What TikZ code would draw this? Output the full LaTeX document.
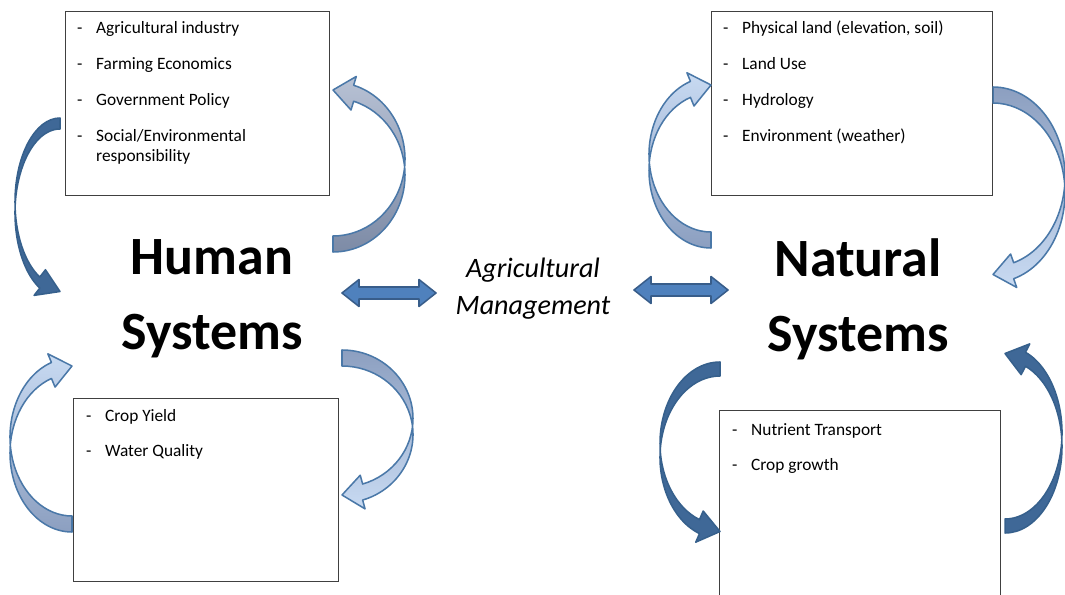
\documentclass[tikz,border=0pt]{standalone}
\usepackage{fontspec}
\setmainfont{Carlito}
\usetikzlibrary{calc}

\definecolor{linkblue}{HTML}{4F81BD}
\definecolor{linkedge}{HTML}{385D8A}
\definecolor{deepblue}{HTML}{3F6897}
\definecolor{deepedge}{HTML}{36608C}
\definecolor{paleblue}{HTML}{C8DAF2}
\definecolor{greyblue}{HTML}{8C9FC0}
\definecolor{slatetop}{HTML}{B7C1D4}
\definecolor{slatebot}{HTML}{7D8BA6}
\definecolor{lightedge}{HTML}{4A78A8}

\tikzset{
  listbox/.style={draw=black!75, line width=0.9pt, inner sep=0pt, anchor=north west},
  listtext/.style={font=\fontsize{14.8}{17}\selectfont, inner sep=0pt, anchor=base west},
  bigtext/.style={font=\fontsize{46}{52}\selectfont\bfseries, inner sep=0pt, anchor=base},
  midtext/.style={font=\fontsize{24}{29}\selectfont\itshape, inner sep=0pt, anchor=base},
  dblarrow/.style={fill=linkblue, draw=linkedge, line width=1.3pt, line join=round},
  deeparrow/.style={fill=deepblue, draw=deepedge, line width=1.3pt, line join=round},
  palearrow/.style={draw=lightedge, line width=1.3pt, line join=round},
}

% list of items with a dash in front
\newcommand\dashlist[1]{\begin{tabular}[t]{@{}p{16.2pt}@{}l@{}}#1\end{tabular}}

% curved block arrow: tail on top, bulging left, head at the bottom pointing right
% #1 style, #2 placement, #3 x radius, #4 y radius, #5 band, #6 half head
\newcommand\bendarrow[6]{%
  \pgfmathsetmacro\bendend{90+1200/#3}%
  \pgfmathsetmacro\bax{#3*cos(\bendend)}%
  \pgfmathsetmacro\bay{#4*sin(\bendend)}%
  \pgfmathsetmacro\bby{\bay+#5}%
  \pgfmathsetmacro\bmy{\bay+#5/2}%
  \pgfmathsetmacro\bty{#4+#5/2}%
  \pgfmathsetmacro\bul{veclen(\bax,\bty-\bmy)}%
  \pgfmathsetmacro\bix{\bax+(\bty-\bmy)/\bul*#6}%
  \pgfmathsetmacro\biy{\bmy+(\bax)/\bul*#6}%
  \pgfmathsetmacro\bcx{\bax-(\bty-\bmy)/\bul*#6}%
  \pgfmathsetmacro\bcy{\bmy-(\bax)/\bul*#6}%
  \begin{scope}[#2]
    \path[#1] (0,-#4) arc[start angle=270, end angle=\bendend, x radius=#3, y radius=#4]
      -- (\bix,\biy) -- (0,\bty) -- (\bcx,\bcy) -- (\bax,\bby)
      arc[start angle=\bendend, end angle=270, x radius=#3, y radius=#4] -- cycle;
  \end{scope}}

\begin{document}
\begin{tikzpicture}[x=0.03cm, y=-0.03cm]
  \path[use as bounding box, fill=white] (0,0) rectangle (1065,595);

  % Boxes:
  \node[listbox, minimum width=7.92cm, minimum height=5.52cm] (humandrivers) at (65,11) {};
  \node[listbox, minimum width=8.43cm, minimum height=5.52cm] (naturaldrivers) at (711,11) {};
  \node[listbox, minimum width=7.95cm, minimum height=5.49cm] (humanoutputs) at (73,398) {};
  \node[listbox, minimum width=8.43cm, minimum height=6cm] (naturaloutputs) at (719,410) {};

  % Box texts:
  \node[listtext] (humandriverlist) at ([shift={(12,23)}]humandrivers.north west) {\dashlist{%
    - & Agricultural industry\\[13.6pt]
    - & Farming Economics\\[13.6pt]
    - & Government Policy\\[13.6pt]
    - & Social/Environmental\\
      & responsibility}};
  \node[listtext] (naturaldriverlist) at ([shift={(12,23)}]naturaldrivers.north west) {\dashlist{%
    - & Physical land (elevation, soil)\\[13.6pt]
    - & Land Use\\[13.6pt]
    - & Hydrology\\[13.6pt]
    - & Environment (weather)}};
  \node[listtext] (humanoutputlist) at ([shift={(13,23)}]humanoutputs.north west) {\dashlist{%
    - & Crop Yield\\[13.6pt]
    - & Water Quality}};
  \node[listtext] (naturaloutputlist) at ([shift={(13,25)}]naturaloutputs.north west) {\dashlist{%
    - & Nutrient Transport\\[13.6pt]
    - & Crop growth}};

  % Main labels:
  \node[bigtext] (human) at (212,274) {Human};
  \node[bigtext] (humansys) at (212,349) {Systems};
  \node[bigtext] (natural) at (858,276) {Natural};
  \node[bigtext] (naturalsys) at (858,351) {Systems};
  \node[midtext] (agri) at (533,277) {Agricultural};
  \node[midtext] (mgmt) at (533,314) {Management};

  % Double arrows:
  \coordinate (la) at (342,293);
  \coordinate (lb) at (436,293);
  \coordinate (ra) at (634,290);
  \coordinate (rb) at (728,290);
  \foreach \a/\b in {la/lb, ra/rb}
    \path[dblarrow] (\a) -- ++(17,-13.5) -- ++(0,7.5) -- ($(\b)+(-17,-6)$) -- ++(0,-7.5)
      -- (\b) -- ++(-17,13.5) -- ++(0,-7.5) -- ($(\a)+(17,6)$) -- ++(0,7.5) -- cycle;

  % Curved arrows round the human side:
  \bendarrow{deeparrow}{shift={(60,202)}}{45}{84}{11}{14}
  \bendarrow{palearrow, top color=slatetop, bottom color=slatebot}{shift={(333,175)}, xscale=-1, yscale=-1}{72}{77}{16}{17}
  \bendarrow{palearrow, top color=paleblue, bottom color=greyblue}{shift={(72,453)}, yscale=-1}{62}{79}{16}{17}
  \bendarrow{palearrow, top color=greyblue, bottom color=paleblue}{shift={(342,418.5)}, xscale=-1}{71}{68.5}{16}{17}

  % Curved arrows round the natural side:
  \bendarrow{palearrow, top color=paleblue, bottom color=greyblue}{shift={(711,170.5)}, yscale=-1}{62}{77.5}{16}{17}
  \bendarrow{palearrow, top color=greyblue, bottom color=paleblue}{shift={(993,176.75)}, xscale=-1}{72}{89.75}{16}{17}
  \bendarrow{deeparrow}{shift={(720,443.25)}}{60}{81.25}{14}{16}
  \bendarrow{deeparrow}{shift={(1005,446.75)}, xscale=-1, yscale=-1}{57}{86.25}{14}{16}
\end{tikzpicture}
\end{document}
